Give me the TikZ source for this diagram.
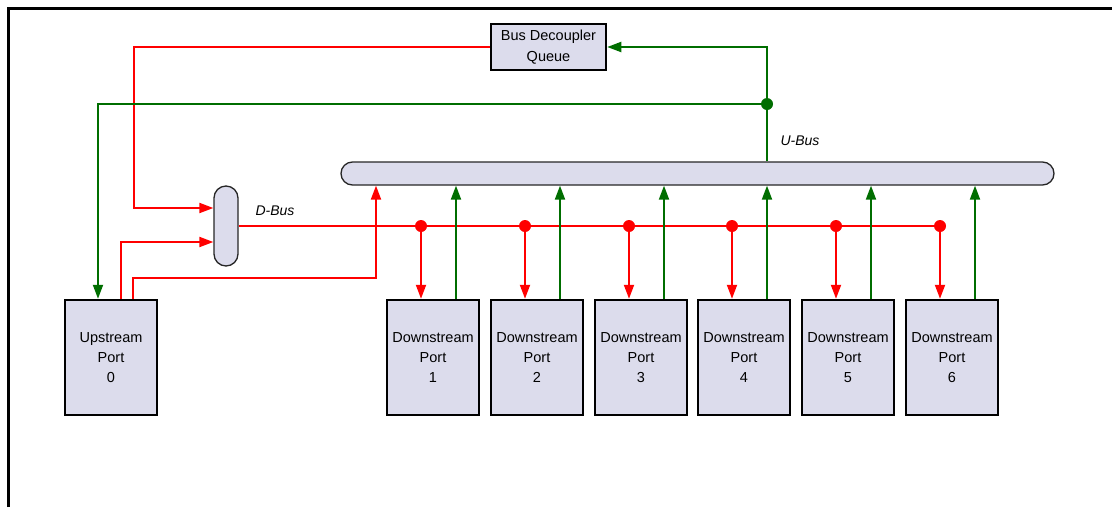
\documentclass[tikz,border=0pt]{standalone}
\usepackage{fontspec}
\setmainfont{Liberation Sans}
\usetikzlibrary{arrows.meta,calc}
\definecolor{boxfill}{RGB}{220,220,236}
\definecolor{rline}{RGB}{255,0,0}
\definecolor{gline}{RGB}{0,110,0}
\tikzset{
  portbox/.style={draw=black,line width=2.5pt,fill=boxfill,minimum width=92pt,minimum height=115pt,inner sep=0pt,align=center,font=\fontsize{14.5}{20}\selectfont},
  busbox/.style={draw=black!85,line width=1.3pt,fill=boxfill,inner sep=0pt},
  rl/.style={draw=rline,line width=2pt},
  gl/.style={draw=gline,line width=2pt},
  tip/.style={-{Triangle[length=14pt,width=10pt]}},
  buslabel/.style={font=\fontsize{14}{16}\selectfont\itshape,inner sep=0pt}
}
\begin{document}
\begin{tikzpicture}[x=1pt,y=-1pt]
\useasboundingbox (0,0) rectangle (1112,507);
\draw[line width=3pt] (8,507) -- (8,8) -- (1112,8);

% buses
\node[busbox,minimum width=713pt,minimum height=23pt,rounded corners=11.5pt] (ubus) at (697.5,173.5) {};
\node[busbox,minimum width=24pt,minimum height=80pt,rounded corners=12pt] (dbus) at (226,226) {};
\node[buslabel] (ulab) at (800,141) {U-Bus};
\node[buslabel] (dlab) at (275,211) {D-Bus};

% queue
\node[draw=black,line width=2.5pt,fill=boxfill,minimum width=115pt,minimum height=46pt,inner sep=0pt,align=center,font=\fontsize{14.5}{21}\selectfont] (bdq) at (548.5,47) {Bus Decoupler\\Queue};

% ports
\node[portbox] (up) at (111,357.5) {Upstream\\Port\\0};
\foreach \i/\x in {1/433,2/537,3/641,4/744,5/848,6/952}{
  \node[portbox] (p\i) at (\x,357.5) {Downstream\\Port\\\i};
}

% D-Bus distribution
\coordinate (dend) at ($(p6.north)+(-12,0)$);
\draw[rl] (dbus.east) -- (dend |- dbus.east);
\foreach \i in {1,...,6}{
  \coordinate (d\i) at ($(p\i.north)+(-12,0)$);
  \coordinate (dd\i) at (d\i |- dbus.east);
  \fill[rline] (dd\i) circle (6pt);
  \draw[rl,tip] (dd\i) -- (d\i);
  \coordinate (g\i) at ($(p\i.north)+(23,0)$);
  \draw[gl,tip] (g\i) -- (g\i |- ubus.south);
}

% upstream port connections
\coordinate (u1) at ($(up.north)+(10,0)$);
\coordinate (u2) at ($(up.north)+(22,0)$);
\coordinate (u3) at ($(up.north)+(-13,0)$);
\coordinate (ubend) at (376,278);
\coordinate (qbend) at (134,208);
\draw[rl,tip] (u1) |- (dbus.west |- 0,242);
\draw[rl,tip] (u2) |- (ubend) -- (ubend |- ubus.south);

% queue connections
\draw[rl,tip] (bdq.west) -| (qbend) -- (qbend -| dbus.west);
\coordinate (j) at (767,104);
\draw[gl,tip] (j |- ubus.north) |- (bdq.east);
\draw[gl,tip] (j) -| (u3);
\fill[gline] (j) circle (6pt);
\end{tikzpicture}
\end{document}
